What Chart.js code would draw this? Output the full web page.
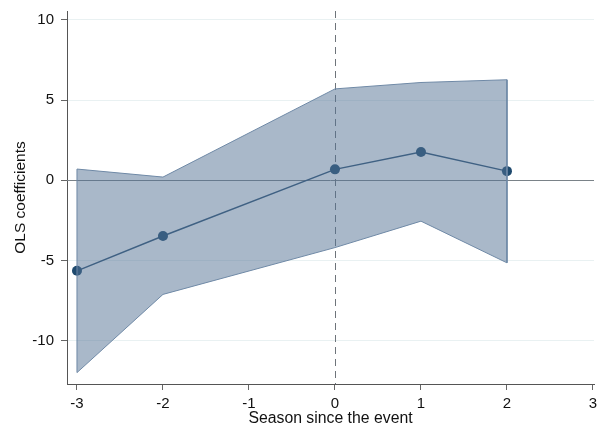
<!DOCTYPE html>
<html>
<head>
<meta charset="utf-8">
<script src="https://cdn.jsdelivr.net/npm/chart.js@4.4.0/dist/chart.umd.min.js"></script>
<style>
  html, body { margin: 0; padding: 0; background: #fff; }
  #wrap { width: 599px; height: 428px; }
</style>
</head>
<body>
<div id="wrap"><canvas id="myChart"></canvas></div>
<script>
'use strict';

// event-study estimates
const seasons = [-3, -2, 0, 1, 2];
const coefs = [-5.65, -3.48, 0.68, 1.76, 0.57];
const ciUpper = [0.7, 0.2, 5.7, 6.1, 6.27];
const ciLower = [-12.0, -7.12, -4.2, -2.55, -5.15];
const xTicks = [-3, -2, -1, 0, 1, 2, 3];
const yTicks = [-10, -5, 0, 5, 10];

const font = 'Liberation Sans';

// closed polygon for the confidence band: upper edge forward, lower edge back
const band = [];
seasons.forEach((s, i) => band.push({ x: s, y: ciUpper[i] }));
for (let i = seasons.length - 1; i >= 0; i--) band.push({ x: seasons[i], y: ciLower[i] });
band.push({ x: seasons[0], y: ciUpper[0] });

const points = seasons.map((s, i) => ({ x: s, y: coefs[i] }));

// zero line and dashed event line, under the band
const refLines = {
  id: 'refLines',
  beforeDatasetsDraw(chart) {
    const { ctx, chartArea, scales } = chart;
    ctx.save();
    ctx.lineWidth = 1;
    ctx.strokeStyle = '#7a8288';
    const y0 = Math.round(scales.y.getPixelForValue(0)) + 0.5;
    ctx.beginPath();
    ctx.moveTo(chartArea.left, y0);
    ctx.lineTo(chartArea.right, y0);
    ctx.stroke();

    const x0 = Math.round(scales.x.getPixelForValue(0)) + 0.5;
    ctx.setLineDash([7, 5]);
    ctx.strokeStyle = '#6e747a';
    ctx.beginPath();
    ctx.moveTo(x0, chartArea.top);
    ctx.lineTo(x0, chartArea.bottom);
    ctx.stroke();
    ctx.restore();
  }
};

const ctx = document.getElementById('myChart').getContext('2d');
const chart = new Chart(ctx, {
  type: 'scatter',
  data: {
    datasets: [
      {
        label: 'CI',
        data: band,
        showLine: true,
        fill: 'shape',
        tension: 0,
        backgroundColor: 'rgba(84, 114, 148, 0.5)',
        borderColor: '#6f89a6',
        borderWidth: 1,
        pointRadius: 0
      },
      {
        label: 'OLS',
        data: points,
        showLine: true,
        fill: false,
        tension: 0,
        borderColor: '#2b5073',
        borderWidth: 1.5,
        pointRadius: 5,
        pointBackgroundColor: '#1f4a6e',
        pointBorderColor: '#1f4a6e',
        pointBorderWidth: 0
      }
    ]
  },
  options: {
    responsive: true,
    maintainAspectRatio: false,
    animation: false,
    layout: { padding: { top: 11, right: 0, left: 0, bottom: 0 } },
    plugins: {
      legend: { display: false },
      tooltip: { enabled: false }
    },
    scales: {
      x: {
        type: 'linear',
        min: -3.116,
        max: 3.012,
        afterBuildTicks: axis => { axis.ticks = xTicks.map(v => ({ value: v })); },
        afterFit: axis => {
          axis.height = 44;
          axis.paddingRight = 0;
          axis.paddingLeft = 0;
        },
        ticks: {
          color: '#111',
          font: { family: font, size: 15 },
          padding: 5,
          maxRotation: 0,
          autoSkip: false
        },
        grid: {
          color: 'rgba(0,0,0,0)',
          tickColor: '#666',
          tickLength: 6,
          drawOnChartArea: false
        },
        border: { color: '#555', width: 1 },
        title: {
          display: true,
          text: 'Season since the event',
          color: '#111',
          font: { family: font, size: 15.8 },
          padding: { top: 0, bottom: 0 }
        }
      },
      y: {
        type: 'linear',
        min: -12.71,
        max: 10.56,
        afterBuildTicks: axis => { axis.ticks = yTicks.map(v => ({ value: v })); },
        afterFit: axis => {
          axis.width = 67;
          axis.paddingTop = 0;
          axis.paddingBottom = 0;
        },
        ticks: {
          color: '#111',
          font: { family: font, size: 15 },
          padding: 7
        },
        grid: {
          color: c => (c.tick && c.tick.value === 0) ? 'rgba(0,0,0,0)' : '#e9f1f2',
          tickColor: '#666',
          tickLength: 6
        },
        border: { color: '#555', width: 1 },
        title: {
          display: true,
          text: 'OLS coefficients',
          color: '#111',
          font: { family: font, size: 15.5 },
          padding: { top: 11, bottom: 0 }
        }
      }
    }
  },
  plugins: [refLines]
});
</script>
</body>
</html>
